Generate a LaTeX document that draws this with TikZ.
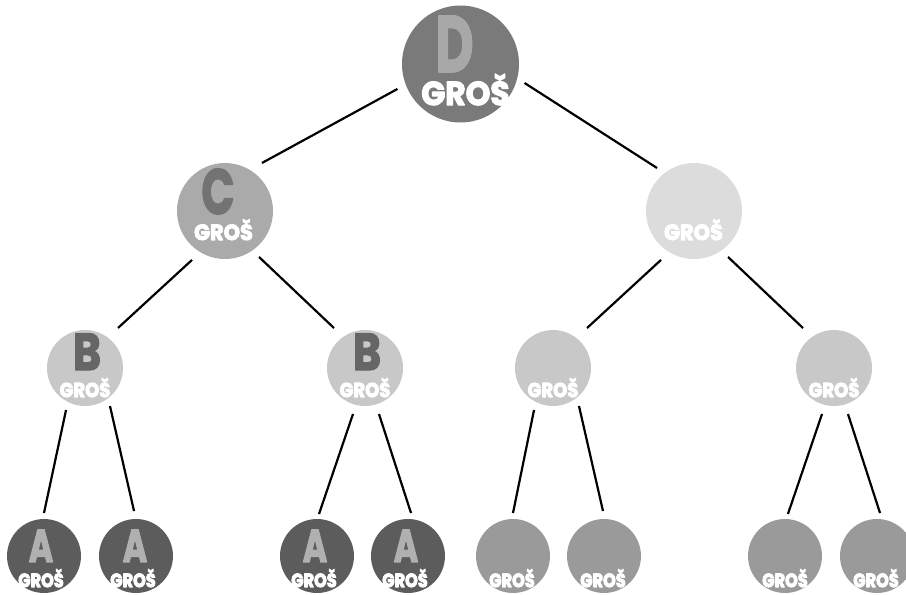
\documentclass[tikz,border=0pt]{standalone}
\usepackage{fontspec}
\newfontfamily\grosfont{Poppins}
\definecolor{cD}{HTML}{7A7A7A}
\definecolor{cDl}{HTML}{A8A8A8}
\definecolor{cC}{HTML}{AAAAAA}
\definecolor{cCl}{HTML}{737373}
\definecolor{cR1}{HTML}{DCDCDC}
\definecolor{cB}{HTML}{C8C8C8}
\definecolor{cBl}{HTML}{666666}
\definecolor{cA}{HTML}{5C5C5C}
\definecolor{cAl}{HTML}{B0B0B0}
\definecolor{cRL}{HTML}{9A9A9A}
\newcommand\fattxt[2]{\special{pdf:literal direct #1 w 1 j 2 Tr}#2\special{pdf:literal direct 0 Tr}}
\tikzset{
  ball/.style n args={2}{circle, fill=#1, draw=none, minimum size=#2, inner sep=0pt, outer sep=0pt},
  gros/.style={text=white, inner sep=0pt, anchor=base, font=\grosfont\bfseries\fontsize{#1}{#1}\selectfont},
  big/.style n args={2}{text=#1, inner sep=0pt, anchor=base, font=\grosfont\bfseries\fontsize{#2}{#2}\selectfont},
  edge/.style={draw=black, line width=2.2pt}
}
\begin{document}
\begin{tikzpicture}[x=1pt,y=1pt]
\useasboundingbox (0,0) rectangle (906,-595);
% level 0
\node[ball={cD}{117pt}] (d) at (460.5,-64) {};
% level 1
\node[ball={cC}{96pt}] (c) at (225,-211) {};
\node[ball={cR1}{96pt}] (r1) at (694,-211) {};
% level 2
\node[ball={cB}{76pt}] (b1) at (85,-368) {};
\node[ball={cB}{76pt}] (b2) at (365,-368) {};
\node[ball={cB}{76pt}] (r2a) at (553,-368) {};
\node[ball={cB}{76pt}] (r2b) at (834,-368) {};
% leaves
\node[ball={cA}{74pt}] (a1) at (44,-556) {};
\node[ball={cA}{74pt}] (a2) at (136,-556) {};
\node[ball={cA}{74pt}] (a3) at (317,-556) {};
\node[ball={cA}{74pt}] (a4) at (408,-556) {};
\node[ball={cRL}{74pt}] (l5) at (513,-556) {};
\node[ball={cRL}{74pt}] (l6) at (604,-556) {};
\node[ball={cRL}{74pt}] (l7) at (785,-556) {};
\node[ball={cRL}{74pt}] (l8) at (877,-556) {};
% edges
\draw[edge] ([shift={(201.6:67.8)}]d.center) -- ([shift={(52.4:60.6)}]c.center);
\draw[edge] ([shift={(-16.5:66.8)}]d.center) -- ([shift={(130.7:56.7)}]r1.center);
\draw[edge] ([shift={(236:59)}]c.center) -- ([shift={(50.5:51.9)}]b1.center);
\draw[edge] ([shift={(-53.5:57.2)}]c.center) -- ([shift={(127.8:50.6)}]b2.center);
\draw[edge] ([shift={(236:59)}]r1.center) -- ([shift={(49.6:52.5)}]r2a.center);
\draw[edge] ([shift={(-53.5:57.2)}]r1.center) -- ([shift={(127.8:50.6)}]r2b.center);
\draw[edge] ([shift={(245.7:46.1)}]b1.center) -- ([shift={(90:43)}]a1.center);
\draw[edge] ([shift={(-56.7:45.5)}]b1.center) -- ([shift={(92.5:45)}]a2.center);
\draw[edge] ([shift={(255.4:47.5)}]b2.center) -- ([shift={(87.3:42)}]a3.center);
\draw[edge] ([shift={(-73.1:48.1)}]b2.center) -- ([shift={(86:43.1)}]a4.center);
\draw[edge] ([shift={(245.7:46.1)}]r2a.center) -- ([shift={(90:43)}]l5.center);
\draw[edge] ([shift={(-55.6:46)}]r2a.center) -- ([shift={(91.3:45)}]l6.center);
\draw[edge] ([shift={(255.4:47.5)}]r2b.center) -- ([shift={(86:42.1)}]l7.center);
\draw[edge] ([shift={(-73.1:48.1)}]r2b.center) -- ([shift={(86:43.1)}]l8.center);
% letters
\node[big={cDl}{80}] (dL) at ([xshift=-6pt,yshift=-8pt]d.center) {\scalebox{0.66}[1]{\fattxt{1.6}{D}}};
\node[big={cCl}{64}] (cL) at ([xshift=-7pt,yshift=-3pt]c.center) {\scalebox{0.68}[1]{\fattxt{1.6}{C}}};
\node[big={cBl}{52}] (b1L) at ([xshift=2pt,yshift=-2pt]b1.center) {\scalebox{0.82}[1]{\fattxt{1.4}{B}}};
\node[big={cBl}{52}] (b2L) at ([xshift=2pt,yshift=-2pt]b2.center) {\scalebox{0.82}[1]{\fattxt{1.4}{B}}};
\node[big={cAl}{46}] (a1L) at ([xshift=-3pt,yshift=-6pt]a1.center) {\scalebox{0.72}[1]{\fattxt{1.4}{A}}};
\node[big={cAl}{46}] (a2L) at ([xshift=-1pt,yshift=-6pt]a2.center) {\scalebox{0.72}[1]{\fattxt{1.4}{A}}};
\node[big={cAl}{46}] (a3L) at ([xshift=-2pt,yshift=-6pt]a3.center) {\scalebox{0.72}[1]{\fattxt{1.4}{A}}};
\node[big={cAl}{46}] (a4L) at ([xshift=-2pt,yshift=-6pt]a4.center) {\scalebox{0.72}[1]{\fattxt{1.4}{A}}};
% GROS labels
\node[gros=33] (dG) at ([xshift=5pt,yshift=-41pt]d.center) {\scalebox{0.95}[1]{\fattxt{1.2}{GROŠ}}};
\node[gros=22] (cG) at ([xshift=-1.5pt,yshift=-29pt]c.center) {\scalebox{0.95}[1]{\fattxt{1}{GROŠ}}};
\node[gros=22] (r1G) at ([xshift=-0.5pt,yshift=-29pt]r1.center) {\scalebox{0.95}[1]{\fattxt{1}{GROŠ}}};
\node[gros=20] (b1G) at ([xshift=0pt,yshift=-29pt]b1.center) {\scalebox{0.9}[1]{\fattxt{1}{GROŠ}}};
\node[gros=20] (b2G) at ([xshift=0pt,yshift=-29pt]b2.center) {\scalebox{0.9}[1]{\fattxt{1}{GROŠ}}};
\node[gros=20] (r2aG) at ([xshift=0pt,yshift=-29pt]r2a.center) {\scalebox{0.9}[1]{\fattxt{1}{GROŠ}}};
\node[gros=20] (r2bG) at ([xshift=0pt,yshift=-29pt]r2b.center) {\scalebox{0.9}[1]{\fattxt{1}{GROŠ}}};
\node[gros=19] (a1G) at ([xshift=-3pt,yshift=-31pt]a1.center) {\scalebox{0.85}[1]{\fattxt{1}{GROŠ}}};
\node[gros=19] (a2G) at ([xshift=-3pt,yshift=-31pt]a2.center) {\scalebox{0.85}[1]{\fattxt{1}{GROŠ}}};
\node[gros=19] (a3G) at ([xshift=-3pt,yshift=-31pt]a3.center) {\scalebox{0.85}[1]{\fattxt{1}{GROŠ}}};
\node[gros=19] (a4G) at ([xshift=-3pt,yshift=-31pt]a4.center) {\scalebox{0.85}[1]{\fattxt{1}{GROŠ}}};
\node[gros=19] (l5G) at ([xshift=-1pt,yshift=-31pt]l5.center) {\scalebox{0.85}[1]{\fattxt{1}{GROŠ}}};
\node[gros=19] (l6G) at ([xshift=-1pt,yshift=-31pt]l6.center) {\scalebox{0.85}[1]{\fattxt{1}{GROŠ}}};
\node[gros=19] (l7G) at ([xshift=0pt,yshift=-31pt]l7.center) {\scalebox{0.85}[1]{\fattxt{1}{GROŠ}}};
\node[gros=19] (l8G) at ([xshift=-1pt,yshift=-31pt]l8.center) {\scalebox{0.85}[1]{\fattxt{1}{GROŠ}}};
\end{tikzpicture}
\end{document}
